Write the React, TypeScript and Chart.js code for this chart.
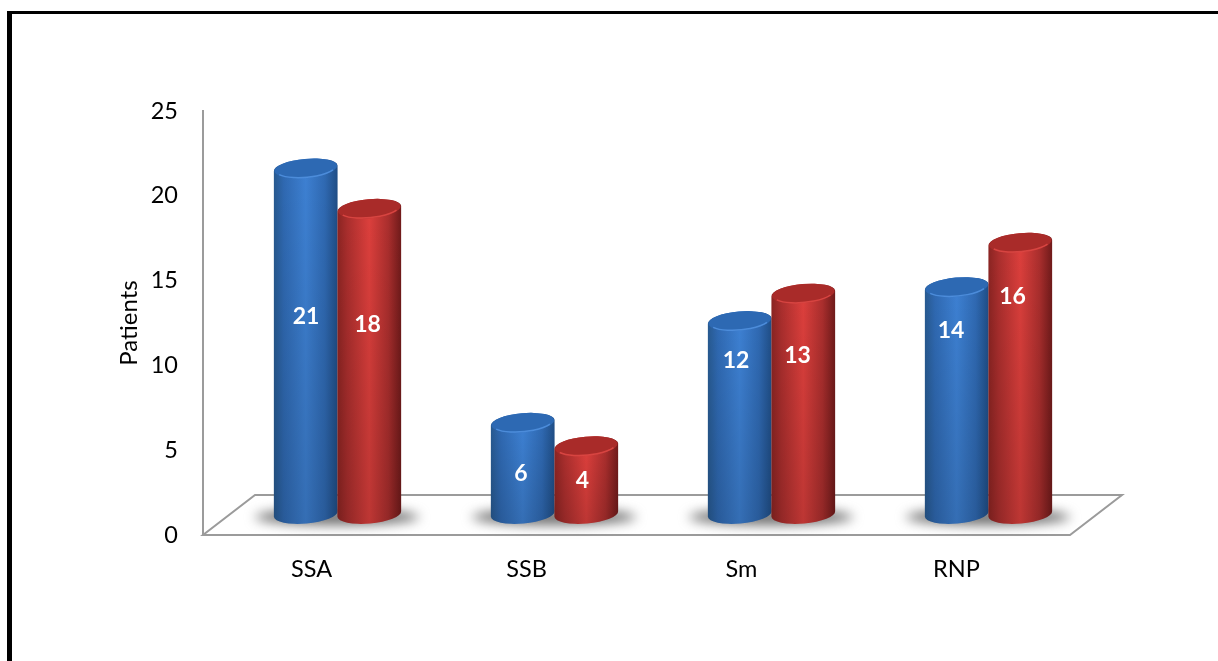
import React, { useEffect, useRef } from "react";
import { Chart, registerables } from "chart.js";

Chart.register(...registerables);

const categories = ["SSA", "SSB", "Sm", "RNP"];
const seriesBlue = [21, 6, 12, 14];
const seriesRed = [18, 4, 13, 16];
const yTicks = [0, 5, 10, 15, 20, 25];
// height on the value axis at which each value label sits
const labelHeightBlue = [12.85, 3.6, 10.26, 12.03];
const labelHeightRed = [12.4, 3.2, 10.55, 14.03];

const FONT = "Lato, Carlito, 'Open Sans', sans-serif";
const GREY = "#9b9b9b";
const PAD_LEFT = 115;
const AREA = { left: 203, top: 111, right: 1063, bottom: 535 };
const FLOOR = { frontRight: 1070, backInset: 52, depth: 40 };
const STYLE = [
  { edgeL: "#27598f", edgeR: "#1f4d85", mid: "#2f69b2", light: "#3d80d2", cap: "#2d69b3", rim: "rgba(90,155,235,0.7)", lift: 10.5, labelDx: 27.5, dx: 1 },
  { edgeL: "#8a2422", edgeR: "#6f1a1a", mid: "#aa2e2d", light: "#dc3f3c", cap: "#a92b29", rim: "rgba(235,80,75,0.7)", lift: 21, labelDx: 25, dx: 0 },
];
const BAR_WIDTH_K = 1.0093;
const BAR_DX = 25.5;
const BASE_LIFT = 21;
const TILT = -0.09;
const CAP_RY = 9.5;

const projectX = (x: number, left: number) => left + (x - left) * BAR_WIDTH_K + BAR_DX;

function cylinder(ctx: CanvasRenderingContext2D, cx: number, top: number, bottom: number, rx: number, s: typeof STYLE[0]) {
  const body = () => {
    ctx.beginPath();
    ctx.ellipse(cx, bottom, rx, CAP_RY, TILT, Math.PI, 0, true);
    ctx.ellipse(cx, top, rx, CAP_RY, TILT, 0, Math.PI, true);
    ctx.closePath();
  };
  const g = ctx.createLinearGradient(cx - rx, 0, cx + rx, 0);
  g.addColorStop(0, s.edgeL);
  g.addColorStop(0.16, s.mid);
  g.addColorStop(0.5, s.light);
  g.addColorStop(0.8, s.mid);
  g.addColorStop(1, s.edgeR);
  body();
  ctx.fillStyle = g;
  ctx.fill();
  const shade = ctx.createLinearGradient(0, top, 0, bottom + CAP_RY);
  shade.addColorStop(0, "rgba(0,0,0,0)");
  shade.addColorStop(1, "rgba(0,0,0,0.14)");
  body();
  ctx.fillStyle = shade;
  ctx.fill();
  ctx.beginPath();
  ctx.ellipse(cx, top, rx - 0.5, CAP_RY, TILT, 0, Math.PI * 2);
  ctx.fillStyle = s.cap;
  ctx.fill();
  ctx.beginPath();
  ctx.ellipse(cx, top, rx - 2, CAP_RY - 0.5, TILT, 0.45, Math.PI - 0.45);
  ctx.strokeStyle = s.rim;
  ctx.lineWidth = 1.5;
  ctx.stroke();
}

const scenePlugin = {
  id: "scene",
  beforeDatasetsDraw(chart: any) {
    const { ctx, chartArea } = chart;
    const { left, bottom } = chartArea;
    ctx.save();
    ctx.strokeStyle = GREY;
    ctx.lineWidth = 2;
    ctx.lineJoin = "miter";
    ctx.beginPath();
    ctx.moveTo(left, bottom);
    ctx.lineTo(FLOOR.frontRight, bottom);
    ctx.lineTo(FLOOR.frontRight + FLOOR.backInset, bottom - FLOOR.depth);
    ctx.lineTo(left + FLOOR.backInset, bottom - FLOOR.depth);
    ctx.closePath();
    ctx.stroke();
    const blue = chart.getDatasetMeta(0).data;
    const red = chart.getDatasetMeta(1).data;
    ctx.filter = "blur(6px)";
    ctx.fillStyle = "#707070";
    blue.forEach((b: any, i: number) => {
      const cx = (projectX(b.x, left) + projectX(red[i].x, left)) / 2;
      ctx.beginPath();
      ctx.ellipse(cx, bottom - 18, 82, 8, 0, 0, Math.PI * 2);
      ctx.fill();
    });
    ctx.restore();
  },
  afterDatasetsDraw(chart: any) {
    const { ctx, chartArea, scales } = chart;
    ctx.save();
    [0, 1].forEach((d) => {
      chart.getDatasetMeta(d).data.forEach((bar: any) => {
        const p = bar.getProps(["x", "y", "base", "width"], true);
        cylinder(ctx, projectX(p.x, chartArea.left) + STYLE[d].dx, p.y - STYLE[d].lift, p.base - BASE_LIFT, p.width / 2, STYLE[d]);
      });
    });
    ctx.font = `bold 23px ${FONT}`;
    ctx.fillStyle = "#ffffff";
    ctx.textAlign = "center";
    ctx.textBaseline = "middle";
    [seriesBlue, seriesRed].forEach((vals, d) => {
      const at = d === 0 ? labelHeightBlue : labelHeightRed;
      vals.forEach((v, i) => {
        const el = chart.getDatasetMeta(d).data[i];
        ctx.fillText(String(v), el.x + STYLE[d].labelDx, scales.y.getPixelForValue(at[i]));
      });
    });
    ctx.restore();
  },
};

export default function App() {
  const ref = useRef<HTMLCanvasElement>(null);
  useEffect(() => {
    const chart = new Chart(ref.current!, {
      type: "bar",
      data: {
        labels: categories,
        datasets: [
          { label: "Series 1", data: seriesBlue, backgroundColor: "rgba(0,0,0,0)", categoryPercentage: 0.595, barPercentage: 1 },
          { label: "Series 2", data: seriesRed, backgroundColor: "rgba(0,0,0,0)", categoryPercentage: 0.595, barPercentage: 1 },
        ],
      },
      options: {
        responsive: false,
        animation: false,
        layout: { padding: { left: PAD_LEFT, top: AREA.top, right: 1218 - AREA.right, bottom: 0 } },
        plugins: { legend: { display: false }, title: { display: false }, tooltip: { enabled: false } },
        scales: {
          x: {
            grid: { display: false, drawTicks: false },
            border: { display: false },
            ticks: { color: "#000", padding: 20, font: { family: FONT, size: 23.5 }, maxRotation: 0, autoSkip: false, labelOffset: 1 },
            afterFit: (s: any) => { s.height = 661 - AREA.bottom; },
          },
          y: {
            min: 0,
            max: 25,
            afterBuildTicks: (s: any) => { s.ticks = yTicks.map((value) => ({ value })); },
            grid: { display: false, drawTicks: false },
            border: { display: true, color: GREY, width: 2 },
            ticks: { color: "#000", padding: 25, font: { family: FONT, size: 23.5 } },
            title: { display: true, text: "Patients", color: "#000", padding: 0, font: { family: FONT, size: 24 } },
            afterFit: (s: any) => { s.width = AREA.left - PAD_LEFT; },
          },
        },
      },
      plugins: [scenePlugin],
    } as any);
    return () => chart.destroy();
  }, []);
  return (
    <div style={{ position: "fixed", left: 0, top: 0, width: 1218, height: 661, overflow: "hidden", background: "#fff" }}>
      <canvas ref={ref} width={1218} height={661} style={{ display: "block" }} />
      <div style={{ position: "absolute", left: 7, top: 11, width: 1300, height: 800, borderLeft: "5px solid #000", borderTop: "3px solid #000", pointerEvents: "none" }} />
    </div>
  );
}
